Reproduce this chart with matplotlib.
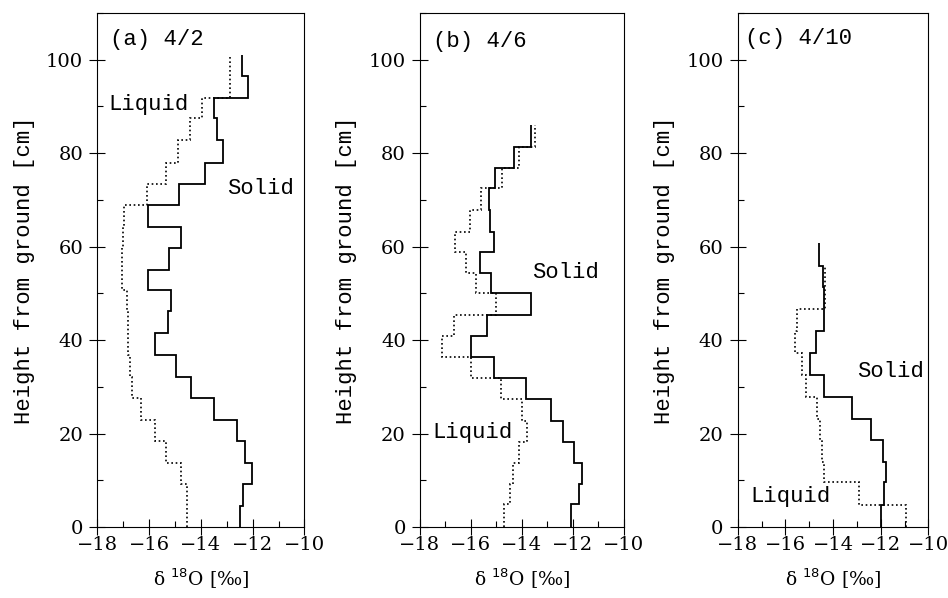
import matplotlib
matplotlib.use("Agg")
import matplotlib.pyplot as plt
from matplotlib.ticker import MultipleLocator

# layer boundaries [cm] and d18O values [permil], listed bottom -> top
edges_a = [0, 4.5, 9.2, 13.8, 18.4, 22.9, 27.6, 32.2, 36.8, 41.6, 46.2, 50.7,
           55.0, 59.7, 64.3, 68.9, 73.5, 77.9, 82.9, 87.5, 91.9, 96.6, 101.0]
solid_a = [-12.50, -12.37, -12.02, -12.28, -12.60, -13.48, -14.37, -14.95,
           -15.79, -15.29, -15.15, -16.03, -15.22, -14.77, -16.05, -14.86,
           -13.83, -13.14, -13.38, -13.51, -12.18, -12.41]
liquid_a = [-14.54, -14.54, -14.77, -15.34, -15.77, -16.32, -16.67, -16.74,
            -16.80, -16.80, -16.84, -17.05, -17.03, -17.00, -16.96, -16.07,
            -15.34, -14.90, -14.44, -13.96, -12.89, -12.89]

edges_b = [0, 4.9, 9.3, 13.7, 18.2, 22.7, 27.3, 31.8, 36.4, 40.8, 45.3, 50.0,
           54.4, 58.8, 63.2, 67.8, 72.5, 76.9, 81.4, 86.0]
solid_b = [-12.08, -11.76, -11.66, -11.95, -12.41, -12.88, -13.83, -15.08,
           -15.98, -15.38, -13.64, -15.21, -15.64, -15.08, -15.25, -15.31,
           -15.05, -14.31, -13.66]
liquid_b = [-14.69, -14.47, -14.35, -14.12, -13.79, -14.00, -14.82, -15.98,
            -17.15, -16.67, -15.03, -15.81, -16.18, -16.64, -16.05, -15.60,
            -14.80, -14.12, -13.50]

edges_c = [0, 4.8, 9.6, 13.9, 18.6, 23.2, 27.8, 32.6, 37.3, 41.9, 46.7, 51.4,
           55.9, 60.7]
solid_c = [-12.00, -11.87, -11.78, -11.92, -12.42, -13.22, -14.38, -14.97,
           -14.72, -14.38, -14.38, -14.44, -14.59]
liquid_c = [-10.94, -12.90, -14.38, -14.45, -14.55, -14.66, -15.14, -15.32,
            -15.60, -15.53, -14.35, -14.32]

titles = ["(a) 4/2", "(b) 4/6", "(c) 4/10"]
# label anchors (x, y) in data units
title_pos = [(-17.5, 104.3), (-17.5, 104.0), (-17.69, 104.5)]
solid_pos = [(-12.98, 72.4), (-13.61, 54.5), (-13.0, 33.3)]
liquid_pos = [(-17.59, 90.4), (-17.52, 20.3), (-17.48, 6.6)]

panels = [(edges_a, solid_a, liquid_a), (edges_b, solid_b, liquid_b),
          (edges_c, solid_c, liquid_c)]
rects = [[0.1027, 0.1187, 0.2185, 0.8595],
         [0.4430, 0.1187, 0.2152, 0.8595],
         [0.7782, 0.1187, 0.2011, 0.8595]]

mono = "Liberation Mono"
serif = "DejaVu Serif"
fig = plt.figure(figsize=(9.48, 5.98), dpi=100)

for i, (edges, solid, liquid) in enumerate(panels):
    ax = fig.add_axes(rects[i])
    ax.stairs(solid, edges, orientation="horizontal", baseline=None,
              color="black", lw=1.3)
    ax.stairs(liquid, edges[:len(liquid) + 1], orientation="horizontal",
              baseline=None, color="black", lw=1.2, linestyle=(0, (1, 1.6)))

    ax.set_xlim(-18, -10)
    ax.set_ylim(0, 110)
    ax.xaxis.set_major_locator(MultipleLocator(2))
    ax.xaxis.set_minor_locator(MultipleLocator(1))
    ax.yaxis.set_major_locator(MultipleLocator(20))
    ax.yaxis.set_minor_locator(MultipleLocator(10))
    ax.tick_params(which="major", direction="inout", length=11.5, width=0.8,
                   labelsize=14)
    ax.tick_params(axis="y", which="major", pad=4.5)
    ax.tick_params(axis="x", which="major", pad=0.5)
    ax.tick_params(which="minor", direction="in", length=4.5, width=0.8)
    for lab in ax.get_xticklabels() + ax.get_yticklabels():
        lab.set_fontfamily(serif)
    for sp in ax.spines.values():
        sp.set_linewidth(0.8)

    ax.set_xlabel("δ $^{18}$O [‰]", fontfamily=serif, fontsize=13.5,
                  labelpad=9)
    ax.set_ylabel("Height from ground [cm]", fontfamily=mono, fontsize=16,
                  labelpad=8)

    ax.text(*title_pos[i], titles[i], fontfamily=mono, fontsize=16,
            ha="left", va="center")
    ax.text(*solid_pos[i], "Solid", fontfamily=mono, fontsize=16,
            ha="left", va="center")
    ax.text(*liquid_pos[i], "Liquid", fontfamily=mono, fontsize=16,
            ha="left", va="center")

fig.savefig("out.png", dpi=100)
